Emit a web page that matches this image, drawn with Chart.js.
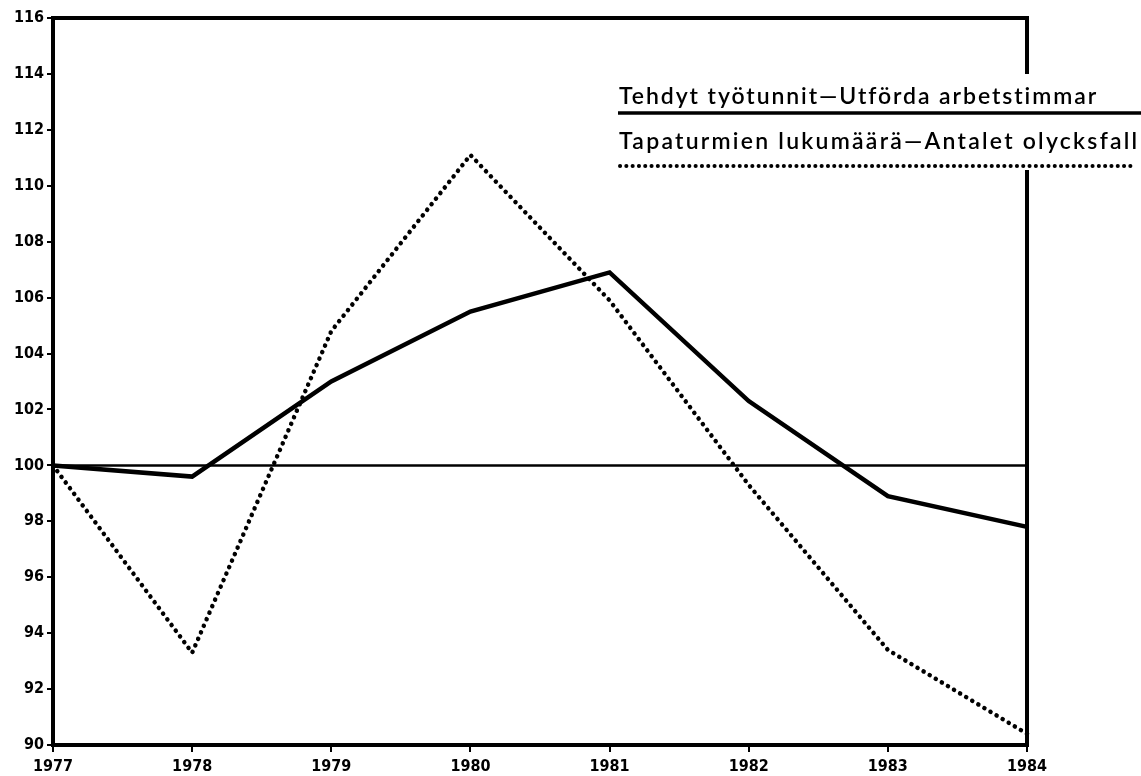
<!DOCTYPE html>
<html>
<head>
<meta charset="utf-8">
<script src="https://cdn.jsdelivr.net/npm/chart.js@4/dist/chart.umd.min.js"></script>
<style>
html,body{margin:0;padding:0;background:#fff;}
canvas{display:block;}
</style>
</head>
<body>
<canvas id="c" width="1141" height="776"></canvas>
<script>
// ---- data ----
const years = ['1977','1978','1979','1980','1981','1982','1983','1984'];
const hoursWorked = [100, 99.6, 103.0, 105.5, 106.9, 102.3, 98.9, 97.8];
const accidents   = [100, 93.3, 104.8, 111.1, 105.9, 99.3, 93.4, 90.4];
const baseIndex = 100;
const yMin = 90, yMax = 116, yStep = 2;
const legendSolid = 'Tehdyt työtunnit\u2014Utförda arbetstimmar';
const legendDotted = 'Tapaturmien lukumäärä\u2014Antalet olycksfall';

const tickFont = {family: '"DejaVu Sans Condensed", "DejaVu Sans", sans-serif', weight: 'bold', size: 16};

const framePlugin = {
  id: 'frame',
  beforeDatasetsDraw(chart) {
    const {ctx, chartArea: a, scales: {y}} = chart;
    const yb = y.getPixelForValue(baseIndex);
    ctx.save();
    ctx.strokeStyle = '#000';
    ctx.lineWidth = 2.5;
    ctx.beginPath();
    ctx.moveTo(a.left, yb);
    ctx.lineTo(a.right, yb);
    ctx.stroke();
    ctx.restore();
  },
  afterDraw(chart) {
    const {ctx, chartArea: a} = chart;
    ctx.save();
    ctx.strokeStyle = '#000';
    ctx.lineWidth = 4;
    ctx.lineCap = 'square';
    ctx.beginPath();
    ctx.moveTo(a.left, a.top);
    ctx.lineTo(a.right, a.top);
    ctx.stroke();
    ctx.beginPath();
    ctx.moveTo(a.right, a.top);
    ctx.lineTo(a.right, 72);
    ctx.moveTo(a.right, 172);
    ctx.lineTo(a.right, a.bottom);
    ctx.stroke();
    ctx.fillStyle = '#000';
    ctx.textBaseline = 'alphabetic';
    ctx.textAlign = 'left';
    const x0 = 619;
    function drawFit(text, y, width) {
      ctx.font = '600 23px Lato';
      ctx.letterSpacing = '0px';
      const w = ctx.measureText(text).width;
      const ls = (width - w) / (text.length - 1);
      ctx.letterSpacing = ls.toFixed(2) + 'px';
      ctx.fillText(text, x0, y);
      ctx.letterSpacing = '0px';
    }
    drawFit(legendSolid, 104, 477);
    drawFit(legendDotted, 149, 518);
    ctx.lineWidth = 3.5;
    ctx.lineCap = 'butt';
    ctx.beginPath();
    ctx.moveTo(x0 - 1, 113);
    ctx.lineTo(1141, 113);
    ctx.stroke();
    ctx.lineWidth = 4;
    ctx.lineCap = 'round';
    ctx.setLineDash([0.1, 6.2]);
    ctx.beginPath();
    ctx.moveTo(x0 + 1, 166);
    ctx.lineTo(1132, 166);
    ctx.stroke();
    ctx.restore();
  }
};

new Chart(document.getElementById('c'), {
  type: 'line',
  data: {
    labels: years,
    datasets: [
      {
        label: legendSolid,
        data: hoursWorked,
        borderColor: '#000',
        borderWidth: 4.5,
        pointRadius: 0,
        tension: 0,
        borderJoinStyle: 'miter',
        fill: false,
        clip: false
      },
      {
        label: legendDotted,
        data: accidents,
        borderColor: '#000',
        borderWidth: 4.5,
        borderDash: [0.1, 7],
        borderCapStyle: 'round',
        pointRadius: 0,
        tension: 0,
        fill: false,
        clip: false
      }
    ]
  },
  options: {
    responsive: false,
    animation: false,
    events: [],
    layout: {padding: {top: 18, right: 114, left: 0, bottom: 0}},
    plugins: {legend: {display: false}, tooltip: {enabled: false}, title: {display: false}},
    scales: {
      x: {
        type: 'category',
        offset: false,
        grid: {drawOnChartArea: false, drawTicks: true, tickLength: 7, color: '#000', lineWidth: 2},
        border: {display: true, color: '#000', width: 4},
        ticks: {font: tickFont, color: '#000', padding: 5, maxRotation: 0, autoSkip: false},
        afterFit(s) { s.height = 31; }
      },
      y: {
        min: yMin,
        max: yMax,
        grid: {drawOnChartArea: false, drawTicks: true, tickLength: 6, color: '#000', lineWidth: 2},
        border: {display: true, color: '#000', width: 4},
        ticks: {stepSize: yStep, font: tickFont, color: '#000', padding: 3},
        afterFit(s) { s.width = 53; }
      }
    }
  },
  plugins: [framePlugin]
});
</script>
</body>
</html>
